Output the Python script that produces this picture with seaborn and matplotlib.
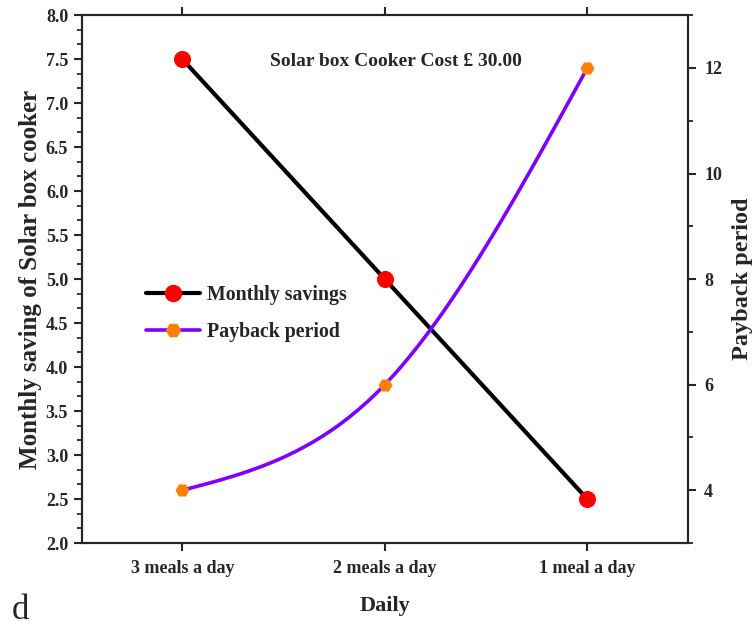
import numpy as np
import pandas as pd
import matplotlib
matplotlib.use("Agg")
import matplotlib.pyplot as plt
from matplotlib.ticker import AutoMinorLocator
from matplotlib.lines import Line2D
import seaborn as sns

categories = ["3 meals a day", "2 meals a day", "1 meal a day"]
monthly_savings = [7.5, 5.0, 2.5]
payback_period = [4, 6, 12]
left_ticks = [2.0, 2.5, 3.0, 3.5, 4.0, 4.5, 5.0, 5.5, 6.0, 6.5, 7.0, 7.5, 8.0]
right_ticks = [4, 6, 8, 10, 12]

sns.set_theme(style="ticks")
plt.rcParams["font.family"] = ["Liberation Serif", "DejaVu Serif"]
plt.rcParams["font.weight"] = "bold"
plt.rcParams["axes.linewidth"] = 1.5

fig = plt.figure(figsize=(7.56, 6.3), dpi=100)
ax = fig.add_axes([0.1085, 0.138, 0.801, 0.838])
ax2 = ax.twinx()

x = np.arange(len(categories))
df = pd.DataFrame({"x": x, "savings": monthly_savings, "payback": payback_period})

# natural cubic spline through payback points (smooth connection, as in the original)
def natural_spline(xs, ys, n=200):
    xs = np.asarray(xs, float); ys = np.asarray(ys, float)
    k = len(xs)
    h = np.diff(xs)
    A = np.zeros((k, k)); r = np.zeros(k)
    A[0, 0] = 1; A[-1, -1] = 1
    for i in range(1, k - 1):
        A[i, i - 1] = h[i - 1]; A[i, i] = 2 * (h[i - 1] + h[i]); A[i, i + 1] = h[i]
        r[i] = 6 * ((ys[i + 1] - ys[i]) / h[i] - (ys[i] - ys[i - 1]) / h[i - 1])
    M = np.linalg.solve(A, r)
    xx = np.linspace(xs[0], xs[-1], n)
    yy = np.empty_like(xx)
    for j, t in enumerate(xx):
        i = min(np.searchsorted(xs, t, side="right") - 1, k - 2)
        a, b = xs[i], xs[i + 1]
        hh = b - a
        yy[j] = (M[i] * (b - t) ** 3 / (6 * hh) + M[i + 1] * (t - a) ** 3 / (6 * hh)
                 + (ys[i] / hh - M[i] * hh / 6) * (b - t) + (ys[i + 1] / hh - M[i + 1] * hh / 6) * (t - a))
    return xx, yy

sx, sy = natural_spline(x, payback_period)
sdf = pd.DataFrame({"x": sx, "y": sy})

sns.lineplot(data=df, x="x", y="savings", ax=ax, color="black", linewidth=3,
             marker="o", markersize=11.5, markerfacecolor="#FF0000", markeredgecolor="#FF0000", legend=False)
sns.lineplot(data=sdf, x="x", y="y", ax=ax2, color="#8000FF", linewidth=2.6, legend=False)
sns.scatterplot(data=df, x="x", y="payback", ax=ax2, marker="H", s=100, color="#FF8000",
                edgecolor="#FF8000", linewidth=0, zorder=5, legend=False)

ax.set_xlim(-0.495, 2.495)
ax.set_ylim(2.0, 8.0)
ax2.set_ylim(3, 13)
ax.set_xticks(x)
ax.set_xticklabels(categories)
ax.set_yticks(left_ticks)
ax.set_yticklabels([f"{v:.1f}" for v in left_ticks])
ax.yaxis.set_minor_locator(AutoMinorLocator(3))
ax2.set_yticks(right_ticks)
ax2.yaxis.set_minor_locator(AutoMinorLocator(2))

ax.tick_params(axis="both", which="major", length=6, width=1.5, labelsize=13, direction="out", pad=4)
ax.tick_params(axis="x", which="major", pad=6)
ax.tick_params(axis="y", which="minor", length=3.5, width=1.3, direction="out")
ax.tick_params(axis="x", top=True, labeltop=False)
ax2.tick_params(axis="y", which="major", length=6, width=1.5, labelsize=13, direction="out", pad=6)
ax2.tick_params(axis="y", which="minor", length=3.5, width=1.3, direction="out")
for a in (ax, ax2):
    for lbl in a.get_xticklabels() + a.get_yticklabels():
        lbl.set_fontweight("bold")

ax.set_xlabel("Daily", fontsize=16, fontweight="bold", labelpad=14)
ax.set_ylabel("Monthly saving of Solar box cooker", fontsize=18, fontweight="bold", labelpad=3)
ax2.set_ylabel("Payback period", fontsize=17.5, fontweight="bold", labelpad=7)

ax.text(0.518, 0.912, "Solar box Cooker Cost \u00a3 30.00", transform=ax.transAxes,
        fontsize=14, fontweight="bold", ha="center", va="center")

handles = [
    Line2D([], [], color="black", linewidth=3, marker="o", markersize=11.5,
           markerfacecolor="#FF0000", markeredgecolor="#FF0000"),
    Line2D([], [], color="#8000FF", linewidth=2.6, marker="H", markersize=10,
           markerfacecolor="#FF8000", markeredgecolor="#FF8000"),
]
leg = ax.legend(handles, ["Monthly savings", "Payback period"], loc="upper left",
                bbox_to_anchor=(0.09, 0.507), frameon=False, fontsize=14.3, borderpad=0,
                handlelength=2.7, handletextpad=0.35, labelspacing=0.85)
for t in leg.get_texts():
    t.set_fontweight("bold")

fig.text(0.016, 0.018, "d", fontsize=25, fontweight="normal", ha="left", va="baseline")

fig.savefig("out.png", dpi=100)
